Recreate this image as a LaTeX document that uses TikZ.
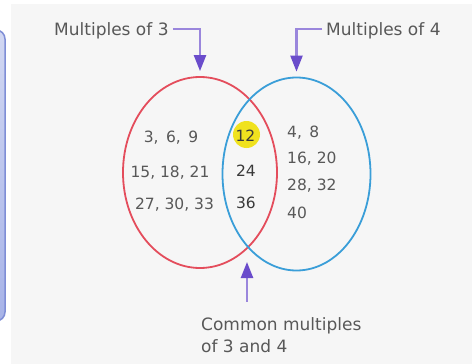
\documentclass[tikz,border=0pt]{standalone}
\usepackage{fontspec}
\setmainfont{DejaVu Sans}
\usetikzlibrary{arrows.meta,shapes.geometric}
\definecolor{bggray}{HTML}{F6F6F6}
\definecolor{redc}{HTML}{E44D5C}
\definecolor{bluec}{HTML}{3A9ED8}
\definecolor{arrline}{HTML}{9A86DC}
\definecolor{arrhead}{HTML}{6A4CCB}
\definecolor{txtgray}{HTML}{585858}
\definecolor{txtdark}{HTML}{3A3A3A}
\definecolor{hiyellow}{HTML}{F0E21E}
\definecolor{paneltop}{HTML}{D2D8F2}
\definecolor{panelbot}{HTML}{A7B3E8}
\definecolor{panelborder}{HTML}{7F8ED6}
\tikzset{
  lbl/.style={inner sep=0pt, text=txtgray, font=\fontsize{17}{20}\selectfont},
  num/.style={inner sep=0pt, text=txtgray, font=\fontsize{15.5}{18}\selectfont},
  numdark/.style={num, text=txtdark},
  ring/.style={ellipse, line width=1.8pt, fill=none},
  pointer/.style={line width=2.4pt, draw=arrline,
    -{Triangle[length=16pt,width=12pt,color=arrhead]}},
}
\begin{document}
\begin{tikzpicture}[x=1pt,y=-1pt]
\useasboundingbox (0,0) rectangle (472,364);
\fill[white] (0,0) rectangle (472,364);
\fill[bggray] (11,4) rectangle (472,364);
% left panel
\draw[rounded corners=9pt, line width=1.5pt, draw=panelborder,
  top color=paneltop, bottom color=panelbot] (-20,30) rectangle (5,321);
% circles
\node[ring, draw=redc, minimum width=154pt, minimum height=191pt] (red) at (200,172.5) {};
\node[ring, draw=bluec, minimum width=148pt, minimum height=193pt] (blue) at (296.5,174) {};
% highlight
\node[circle, fill=hiyellow, minimum size=27pt, inner sep=0pt] (hl) at (246.5,134.5) {};
% numbers
\node[num, anchor=base] (n1) at (171,142) {3, \,6, \,9};
\node[num, anchor=base] (n2) at (170,177) {15, 18, 21};
\node[num, anchor=base] (n3) at (174.5,209) {27, 30, 33};
\node[numdark, anchor=base] (c1) at (245.5,141) {12};
\node[numdark, anchor=base] (c2) at (246,176) {24};
\node[numdark, anchor=base] (c3) at (246,208) {36};
\node[num, anchor=base west] (f1) at (287,137) {4, \,8};
\node[num, anchor=base west] (f2) at (287,163) {16, 20};
\node[num, anchor=base west] (f3) at (287,190) {28, 32};
\node[num, anchor=base west] (f4) at (287,218) {40};
% labels
\node[lbl, anchor=base west] (m3) at (54,35) {Multiples of 3};
\node[lbl, anchor=base west] (m4) at (326,35) {Multiples of 4};
\node[lbl, anchor=base west] (cm) at (201,330) {Common multiples};
\node[lbl, anchor=base west] (cm2) at (201,352) {of 3 and 4};
\coordinate (cross) at (247,250);
% pointers
\draw[pointer, shorten <=4pt, shorten >=5pt] (m3.east |- 0,29) -| (red.north);
\draw[pointer, shorten <=4pt, shorten >=5pt] (m4.west |- 0,29) -| (blue.north);
\draw[pointer, shorten <=15pt, shorten >=12pt] (cross |- cm.north) -- (cross);
\end{tikzpicture}
\end{document}
